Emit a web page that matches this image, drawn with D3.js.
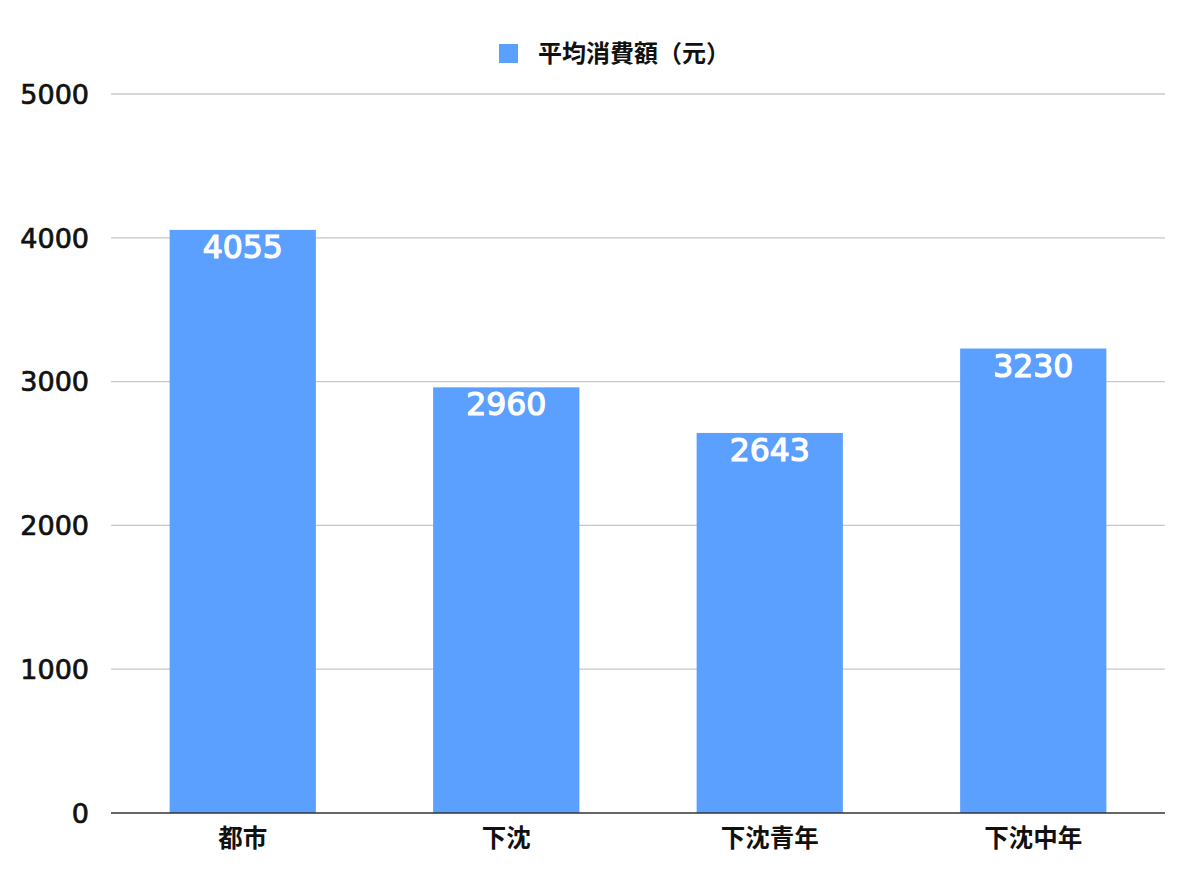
<!DOCTYPE html>
<html>
<head>
<meta charset="utf-8">
<script src="https://cdn.jsdelivr.net/npm/d3@7"></script>
<style>
  body { margin: 0; background: #fff; }
</style>
</head>
<body>
<div id="chart"></div>
<script>
const categories = ['都市', '下沈', '下沈青年', '下沈中年'];
const values = [4055, 2960, 2643, 3230];
const yTicks = [0, 1000, 2000, 3000, 4000, 5000];
const seriesName = '平均消費額（元）';

const W = 1200, H = 871;
const plotLeft = 111, plotRight = 1165, plotTop = 94, plotBottom = 813;
const barColor = '#5ba0ff';
const cjk = '"Noto Sans CJK JP", "Noto Sans CJK SC", sans-serif';
const latin = '"DejaVu Sans", sans-serif';

let svg = d3.select('#chart')
  .append('svg')
  .attr('width', W)
  .attr('height', H);

let x = d3.scaleBand()
  .domain(categories)
  .range([plotLeft, plotRight])
  .paddingInner(0.445)
  .paddingOuter(0.2225);

let y = d3.scaleLinear()
  .domain([0, 5000])
  .range([plotBottom, plotTop]);

// gridlines
svg.append('g')
  .selectAll('line')
  .data(yTicks.filter(d => d > 0))
  .join('line')
  .attr('x1', plotLeft)
  .attr('x2', plotRight)
  .attr('y1', d => y(d))
  .attr('y2', d => y(d))
  .attr('stroke', '#c8c8c8')
  .attr('stroke-width', 1.3);

// y tick labels
svg.append('g')
  .selectAll('text')
  .data(yTicks)
  .join('text')
  .attr('x', 89)
  .attr('y', d => y(d))
  .attr('dy', '0.36em')
  .attr('text-anchor', 'end')
  .attr('font-family', latin)
  .attr('font-size', 27)
  .attr('fill', '#111')
  .attr('stroke', '#111')
  .attr('stroke-width', 0.7)
  .text(d => d);

// bars
svg.append('g')
  .selectAll('rect')
  .data(values)
  .join('rect')
  .attr('x', (d, i) => x(categories[i]))
  .attr('y', d => y(d))
  .attr('width', x.bandwidth())
  .attr('height', d => y(0) - y(d))
  .attr('fill', barColor);

// value labels inside bars
svg.append('g')
  .selectAll('text')
  .data(values)
  .join('text')
  .attr('x', (d, i) => x(categories[i]) + x.bandwidth() / 2)
  .attr('y', d => y(d) + 28)
  .attr('text-anchor', 'middle')
  .attr('font-family', latin)
  .attr('font-size', 31.5)
  .attr('fill', '#fff')
  .attr('stroke', '#fff')
  .attr('stroke-width', 1.2)
  .text(d => d);

// zero line
svg.append('line')
  .attr('x1', plotLeft)
  .attr('x2', plotRight)
  .attr('y1', y(0))
  .attr('y2', y(0))
  .attr('stroke', '#333')
  .attr('stroke-width', 1.5);

// category labels
svg.append('g')
  .selectAll('text')
  .data(categories)
  .join('text')
  .attr('x', d => x(d) + x.bandwidth() / 2)
  .attr('y', 838)
  .attr('dy', '0.35em')
  .attr('text-anchor', 'middle')
  .attr('font-family', cjk)
  .attr('font-weight', 'bold')
  .attr('font-size', 24.5)
  .attr('fill', '#111')
  .text(d => d);

// legend
let legend = svg.append('g');
legend.append('rect')
  .attr('x', 499)
  .attr('y', 44)
  .attr('width', 19)
  .attr('height', 19)
  .attr('fill', barColor);
legend.append('text')
  .attr('x', 538)
  .attr('y', 54)
  .attr('dy', '0.35em')
  .attr('font-family', cjk)
  .attr('font-weight', 'bold')
  .attr('font-size', 24)
  .attr('fill', '#111')
  .text(seriesName);
</script>
</body>
</html>
